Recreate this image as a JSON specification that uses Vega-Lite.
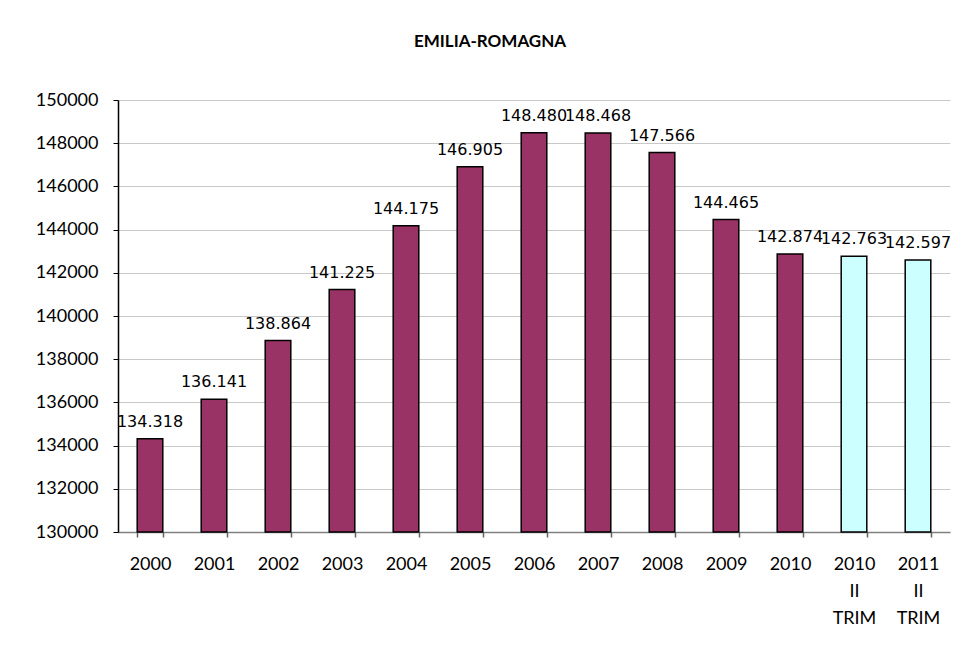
{
  "$schema": "https://vega.github.io/schema/vega-lite/v6.json",
  "width": 832,
  "height": 432,
  "autosize": "none",
  "padding": {"left": 118, "top": 100, "right": 15, "bottom": 115},
  "background": "white",
  "config": {
    "locale": {"number": {"decimal": ",", "thousands": ".", "grouping": [3], "currency": ["€", ""]}},
    "view": {"stroke": null},
    "axis": {"labelFont": "Lato", "labelFontSize": 18, "labelColor": "#000"}
  },
  "title": {
    "text": "EMILIA-ROMAGNA",
    "font": "Lato",
    "fontSize": 17,
    "fontWeight": "bold",
    "color": "#000",
    "anchor": "middle",
    "frame": "group",
    "dx": -44,
    "offset": 40
  },
  "data": {
    "values": [
      {"periodo": "2000", "occupati": 134318, "tipo": "anno"},
      {"periodo": "2001", "occupati": 136141, "tipo": "anno"},
      {"periodo": "2002", "occupati": 138864, "tipo": "anno"},
      {"periodo": "2003", "occupati": 141225, "tipo": "anno"},
      {"periodo": "2004", "occupati": 144175, "tipo": "anno"},
      {"periodo": "2005", "occupati": 146905, "tipo": "anno"},
      {"periodo": "2006", "occupati": 148480, "tipo": "anno"},
      {"periodo": "2007", "occupati": 148468, "tipo": "anno"},
      {"periodo": "2008", "occupati": 147566, "tipo": "anno"},
      {"periodo": "2009", "occupati": 144465, "tipo": "anno"},
      {"periodo": "2010", "occupati": 142874, "tipo": "anno"},
      {"periodo": "2010 II TRIM", "occupati": 142763, "tipo": "trimestre"},
      {"periodo": "2011 II TRIM", "occupati": 142597, "tipo": "trimestre"}
    ]
  },
  "encoding": {
    "x": {
      "field": "periodo",
      "type": "nominal",
      "sort": null,
      "title": null,
      "scale": {"paddingInner": 0.6, "paddingOuter": 0.3},
      "axis": {
        "labelAngle": 0,
        "labelExpr": "split(datum.label, ' ')",
        "labelLineHeight": 27,
        "labelPadding": 18,
        "tickBand": "extent",
        "tickSize": 5,
        "tickColor": "#606060",
        "tickWidth": 1.5,
        "domainColor": "#808080",
        "domainWidth": 1.5,
        "grid": false
      }
    },
    "y": {
      "field": "occupati",
      "type": "quantitative",
      "title": null,
      "scale": {"domain": [130000, 150000], "zero": false, "nice": false},
      "axis": {
        "values": [130000, 132000, 134000, 136000, 138000, 140000, 142000, 144000, 146000, 148000, 150000],
        "format": "d",
        "tickSize": 5,
        "tickColor": "#000",
        "domainColor": "#000",
        "domainWidth": 1.5,
        "labelPadding": 15,
        "grid": true,
        "gridColor": "#c8c8c8",
        "gridWidth": 1
      }
    }
  },
  "layer": [
    {
      "mark": {"type": "bar", "stroke": "#000", "strokeWidth": 1.5},
      "encoding": {
        "y2": {"datum": 130000},
        "color": {
          "field": "tipo",
          "type": "nominal",
          "scale": {"domain": ["anno", "trimestre"], "range": ["#993366", "#ccffff"]},
          "legend": null
        }
      }
    },
    {
      "mark": {"type": "text", "font": "DejaVu Sans", "fontSize": 16, "baseline": "alphabetic", "dy": -12, "color": "#000"},
      "encoding": {
        "text": {"field": "occupati", "type": "quantitative", "format": ",d"}
      }
    }
  ]
}
